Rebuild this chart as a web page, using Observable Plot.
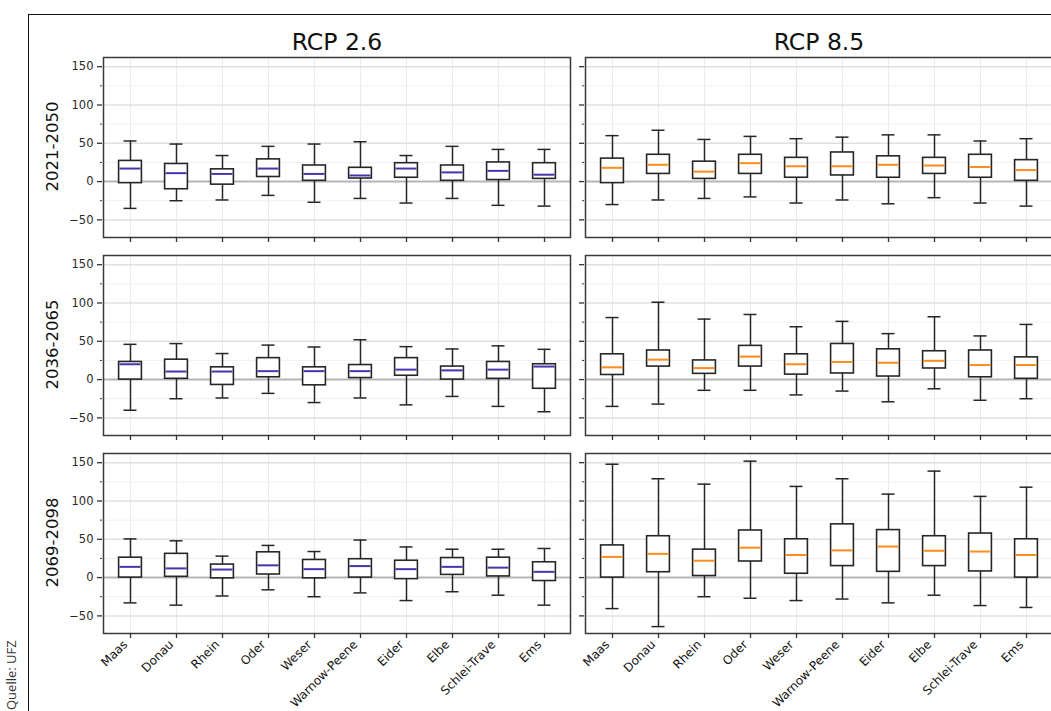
<!DOCTYPE html>
<html>
<head>
<meta charset="utf-8">
<script src="https://cdn.jsdelivr.net/npm/d3@7"></script>
<script src="https://cdn.jsdelivr.net/npm/@observablehq/plot@0.6"></script>
<style>
  html, body { margin: 0; padding: 0; background: #fff; }
  #wrap { position: relative; width: 1051px; height: 711px; overflow: hidden; background: #fff; }
  #outer { position: absolute; left: 28px; top: 14px; width: 1200px; height: 900px;
           border-left: 1.5px solid #111; border-top: 1.5px solid #111; }
  #chart { position: absolute; left: 0; top: 0; width: 1080px; }
  #chart svg { max-width: none !important; }
  #source { position: absolute; left: 3px; top: 710px; transform-origin: left top; transform: rotate(-90deg);
            font-family: "Open Sans", sans-serif; font-size: 13px; color: #333; white-space: nowrap; line-height: 16px; }
</style>
</head>
<body>
<div id="wrap">
  <div id="outer"></div>
  <div id="chart"></div>
  <div id="source">Quelle: UFZ</div>
</div>
<script>
const rivers = ["Maas","Donau","Rhein","Oder","Weser","Warnow-Peene","Eider","Elbe","Schlei-Trave","Ems"];
const scenarios = ["RCP 2.6","RCP 8.5"];
const periods = ["2021-2050","2036-2065","2069-2098"];
const yTicks = [150,100,50,0,-50];
const yMinorTicks = [125,75,25,-25];

// [lower whisker, Q1, median, Q3, upper whisker] for each river
const rcp26_2021 = [[-35,-2,17,27,53],[-25,-10,11,23,49],[-24,-4,10,16,34],[-18,6,17,29,46],[-27,1,10,21,49],[-22,4,8,18,52],[-28,5,17,24,34],[-22,1,12,21,46],[-31,2,14,25,42],[-32,3.5,9,24,42]];
const rcp85_2021 = [[-30,-2,18,30,60],[-24,10,22,35,67],[-22,3.5,13,26,55],[-20,10,24,35,59],[-28,5,20,31,56],[-24,8,20,38,58],[-29,5,22,33,61],[-21,10,21,31,61],[-28,5,19,35,53],[-32,1,15,28,56]];
const rcp26_2036 = [[-40,0,20,23,46],[-25,1,10.5,26,47],[-24,-7,10.5,16,34],[-18,3,11,28,45],[-30,-7.5,11,16,42.5],[-24,2,11,19,52],[-33,5,13,28,43],[-22,0,12,17,40],[-35,1,13,23,44],[-42,-12,17,20,39.5]];
const rcp85_2036 = [[-35,6,16,33,81],[-32,17,26,38,101],[-14,7.5,15,25,79],[-14,17,30,44,85],[-20,6.5,20,33,69],[-15,8,23,46.5,76],[-29,4,22,39.5,60],[-12,14.5,24.5,37,82],[-27,3,19,38,57],[-25,1,19,29,72]];
const rcp26_2069 = [[-33,0,14,26,50.5],[-36,1,12,31,48],[-24,-1,10.5,17,28],[-16,4,16,33,42],[-25,-1,11,23,34],[-20,0,15,24,49],[-30,-2,11,22,40],[-18.5,3.5,14,25.5,37],[-23,1.5,13,26,37],[-36,-4.5,7.5,20,38]];
const rcp85_2069 = [[-40.5,0,27,42,148],[-64,7,31,54,129],[-25,2,22,36.5,122],[-27,21,39,61.5,152],[-30,5,29.5,50,119],[-28,15,35.5,69.5,129],[-33,7.5,40.5,62,109],[-23,15,35,54,139],[-36.5,8,34,57.5,106],[-39,0,29.5,50,118]];

const panelList = [
  [scenarios[0], periods[0], rcp26_2021], [scenarios[1], periods[0], rcp85_2021],
  [scenarios[0], periods[1], rcp26_2036], [scenarios[1], periods[1], rcp85_2036],
  [scenarios[0], periods[2], rcp26_2069], [scenarios[1], periods[2], rcp85_2069]
];
const rows = [];
for (const [scenario, period, stats] of panelList) {
  stats.forEach((s, i) => rows.push({scenario, period, river: rivers[i], lo: s[0], q1: s[1], med: s[2], q3: s[3], hi: s[4]}));
}

const W = 1080, H = 711, ML = 103, MR = 27, MT = 57, MB = 78;
const panelW = 468, panelH = 180;
const boxStroke = "#262626";
const fmt = d => d < 0 ? "\u2212" + Math.abs(d) : String(d);
const facet = {fx: "scenario", fy: "period"};

const chart = Plot.plot({
  width: W, height: H,
  marginLeft: ML, marginRight: MR, marginTop: MT, marginBottom: MB,
  style: {fontFamily: "DejaVu Sans", background: "transparent", overflow: "visible", maxWidth: "none"},
  fx: {domain: scenarios, axis: null, paddingInner: 15/483, paddingOuter: 0},
  fy: {domain: periods, axis: null, paddingInner: 18/198, paddingOuter: 0},
  x: {domain: rivers, padding: 0, axis: null},
  y: {domain: [-73, 162], axis: null},
  marks: [
    Plot.ruleX(rivers, {x: d => d, stroke: "#ebebeb", strokeWidth: 1}),
    Plot.ruleY(yMinorTicks, {y: d => d, stroke: "#f0f0f0", strokeWidth: 1}),
    Plot.ruleY(yTicks.filter(d => d !== 0), {y: d => d, stroke: "#e0e0e0", strokeWidth: 1.5}),
    Plot.ruleY([0], {y: d => d, stroke: "#b5b5b5", strokeWidth: 2}),
    Plot.ruleX(rows, {...facet, x: "river", y1: "lo", y2: "q1", stroke: boxStroke, strokeWidth: 1.5}),
    Plot.ruleX(rows, {...facet, x: "river", y1: "q3", y2: "hi", stroke: boxStroke, strokeWidth: 1.5}),
    Plot.tickY(rows, {...facet, x: "river", y: "lo", stroke: boxStroke, strokeWidth: 1.5, insetLeft: 16.5, insetRight: 16.5}),
    Plot.tickY(rows, {...facet, x: "river", y: "hi", stroke: boxStroke, strokeWidth: 1.5, insetLeft: 16.5, insetRight: 16.5}),
    Plot.barY(rows, {...facet, x: "river", y1: "q1", y2: "q3", fill: "white", stroke: boxStroke, strokeWidth: 1.6, insetLeft: 11.6, insetRight: 11.6}),
    Plot.tickY(rows.filter(d => d.scenario === scenarios[0]), {...facet, x: "river", y: "med", stroke: "#4536ad", strokeWidth: 2, insetLeft: 12.5, insetRight: 12.5}),
    Plot.tickY(rows.filter(d => d.scenario === scenarios[1]), {...facet, x: "river", y: "med", stroke: "#fb8c1e", strokeWidth: 2, insetLeft: 12.5, insetRight: 12.5}),
    Plot.frame({stroke: "#3a3a3a", strokeWidth: 1.5}),
    // y ticks (outside each panel's left edge)
    Plot.ruleY(yTicks, {y: d => d, insetLeft: -6, insetRight: panelW, stroke: "#333", strokeWidth: 1.3}),
    Plot.ruleY(yMinorTicks, {y: d => d, insetLeft: -3, insetRight: panelW, stroke: "#333", strokeWidth: 1}),
    // y tick labels (left column only)
    Plot.text(yTicks, {fx: () => scenarios[0], y: d => d, text: fmt, frameAnchor: "left", dx: -10, textAnchor: "end", fontSize: 11.5, fill: "#2a2a2a"}),
    // x ticks below each panel
    Plot.ruleX(rivers, {x: d => d, insetTop: panelH, insetBottom: -5, stroke: "#333", strokeWidth: 1.3}),
    // x labels, bottom row only
    Plot.text(rivers, {fy: () => periods[2], x: d => d, text: d => d, frameAnchor: "bottom", dy: 9, dx: -5, rotate: -45, textAnchor: "end", lineAnchor: "middle", fontSize: 12, fill: "#111"}),
    Plot.text(scenarios, {fx: d => d, fy: () => periods[0], text: d => d, frameAnchor: "top", dy: -15, lineAnchor: "middle", fontSize: 23.5, fill: "#111"}),
    Plot.text(periods, {fy: d => d, fx: () => scenarios[0], text: d => d, frameAnchor: "left", dx: -51, dy: -1, rotate: -90, textAnchor: "middle", lineAnchor: "middle", fontSize: 16.5, fill: "#111"})
  ]
});
chart.style.maxWidth = "none";
document.getElementById("chart").appendChild(chart);
</script>
</body>
</html>
